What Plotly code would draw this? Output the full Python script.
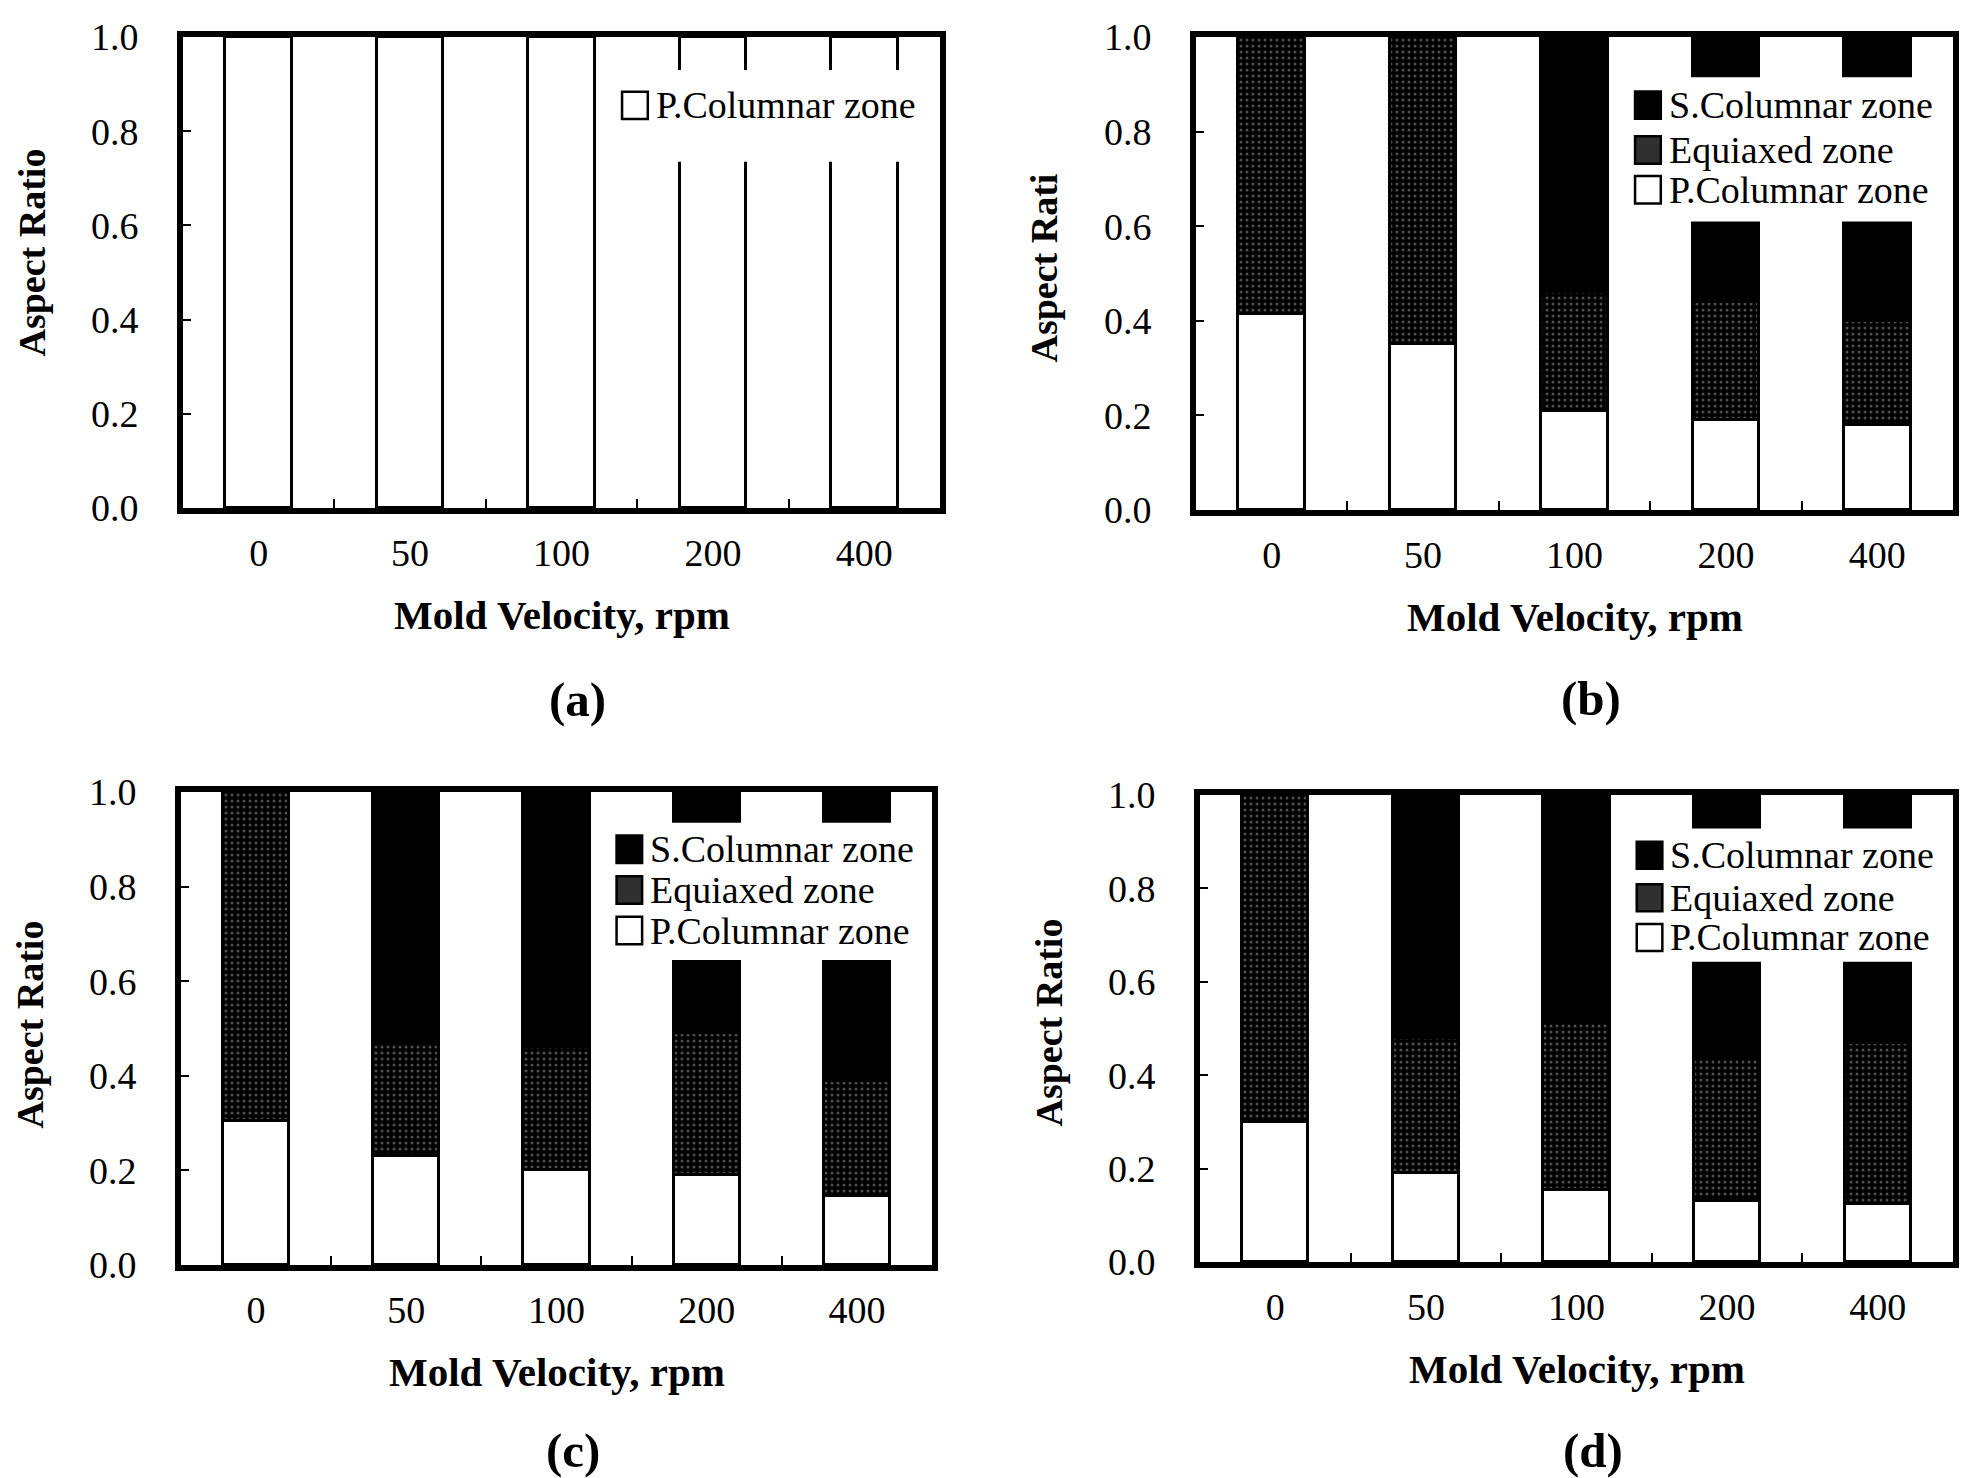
import plotly.graph_objects as go

# ---------------- data ----------------
categories = ["0", "50", "100", "200", "400"]

# panel (a): only primary columnar zone
a_pcol = [1.0, 1.0, 1.0, 1.0, 1.0]

# panel (b)
b_pcol = [0.415, 0.35, 0.21, 0.19, 0.18]
b_equi = [0.585, 0.65, 0.25, 0.25, 0.22]
b_scol = [0.0, 0.0, 0.54, 0.56, 0.60]

# panel (c)
c_pcol = [0.305, 0.23, 0.20, 0.19, 0.145]
c_equi = [0.695, 0.24, 0.26, 0.30, 0.245]
c_scol = [0.0, 0.53, 0.54, 0.51, 0.61]

# panel (d)
d_pcol = [0.30, 0.19, 0.155, 0.13, 0.125]
d_equi = [0.70, 0.29, 0.36, 0.305, 0.345]
d_scol = [0.0, 0.52, 0.485, 0.565, 0.53]

y_title = ["Aspect Ratio", "Aspect Rati", "Aspect Ratio", "Aspect Ratio"]
x_title = "Mold Velocity, rpm"
panel_labels = ["(a)", "(b)", "(c)", "(d)"]
zone_names = ["S.Columnar zone", "Equiaxed zone", "P.Columnar zone"]

# ---------------- styling ----------------
FONT = "Liberation Serif"
W, H = 1961, 1478

# plot-area boxes in pixels (left, right, top, bottom)
boxes = [
    (183, 940, 37, 508),
    (1196, 1953, 37, 510),
    (181, 932, 792, 1265),
    (1200, 1953, 795, 1262),
]
ytitle_shift = [-20, -5, -4, -6]
label_offset = [191, 188, 185, 188]
# legend white box (y from, y to) and legend entry centres, in data units
legend_box = [(0.735, 0.93), (0.61, 0.915), (0.645, 0.935), (0.643, 0.928)]
legend_rows = [
    [0.855],
    [0.856, 0.761, 0.677],
    [0.879, 0.793, 0.707],
    [0.871, 0.780, 0.695],
]

fig = go.Figure()

white = dict(color="white", line=dict(color="black", width=3))
black = dict(color="black", line=dict(color="black", width=3))
gray = dict(color="black", line=dict(color="black", width=3),
            pattern=dict(shape=".", fgcolor="#a0a0a0", size=6, solidity=0.2))

panels = [
    [(a_pcol, white, zone_names[2])],
    [(b_pcol, white, zone_names[2]), (b_equi, gray, zone_names[1]), (b_scol, black, zone_names[0])],
    [(c_pcol, white, zone_names[2]), (c_equi, gray, zone_names[1]), (c_scol, black, zone_names[0])],
    [(d_pcol, white, zone_names[2]), (d_equi, gray, zone_names[1]), (d_scol, black, zone_names[0])],
]

shapes = []
annotations = []

for i, traces in enumerate(panels):
    sfx = "" if i == 0 else str(i + 1)
    for vals, mk, name in traces:
        fig.add_trace(go.Bar(x=categories, y=vals, name=name, marker=mk, width=0.44,
                             showlegend=False, xaxis="x" + sfx, yaxis="y" + sfx))

    l, r, t, b = boxes[i]
    xdom = [l / W, r / W]
    ydom = [1 - b / H, 1 - t / H]
    axis_common = dict(showline=True, linecolor="black", linewidth=6, mirror=True,
                       showgrid=False, zeroline=False, automargin=False,
                       tickfont=dict(family=FONT, size=38, color="black"),
                       ticks="inside", tickcolor="black", tickwidth=2)
    fig.update_layout(**{
        "xaxis" + sfx: dict(domain=xdom, anchor="y" + sfx, type="category",
                            range=[-0.5, 4.5], tickson="boundaries", ticklen=9,
                            ticklabelstandoff=6, **axis_common),
        "yaxis" + sfx: dict(domain=ydom, anchor="x" + sfx, range=[0, 1.0],
                            tickvals=[0, 0.2, 0.4, 0.6, 0.8, 1.0], tickformat=".1f",
                            ticklen=8, ticklabelstandoff=31, **axis_common),
    })

    xd = "x" + sfx + " domain"
    yd = "y" + sfx
    y0, y1 = legend_box[i]
    shapes.append(dict(type="rect", xref=xd, yref=yd, x0=0.56, x1=0.997, y0=y0, y1=y1,
                       fillcolor="white", line=dict(width=0), layer="above"))

    # legend rows
    names = [zone_names[2]] if i == 0 else zone_names
    fills = ["white"] if i == 0 else ["black", "#303030", "white"]
    for yc, nm, fc in zip(legend_rows[i], names, fills):
        hh = 0.029
        shapes.append(dict(type="rect", xref=xd, yref=yd, x0=0.58, x1=0.614,
                           y0=yc - hh, y1=yc + hh, fillcolor=fc,
                           line=dict(color="black", width=2.5), layer="above"))
        annotations.append(dict(text=nm, xref=xd, yref=yd, x=0.622, y=yc,
                                xanchor="left", yanchor="middle", showarrow=False,
                                font=dict(family=FONT, size=38, color="black")))

    # axis titles and panel label
    cx = (l + r) / 2 / W
    annotations.append(dict(text="<b>" + x_title + "</b>", xref="paper", yref="paper",
                            x=cx, y=1 - (b + 107) / H, xanchor="center", yanchor="middle",
                            showarrow=False, font=dict(family=FONT, size=41, color="black")))
    annotations.append(dict(text="<b>" + panel_labels[i] + "</b>", xref="paper", yref="paper",
                            x=cx + 16 / W, y=1 - (b + label_offset[i]) / H, xanchor="center",
                            yanchor="middle", showarrow=False,
                            font=dict(family=FONT, size=49, color="black")))
    annotations.append(dict(text="<b>" + y_title[i] + "</b>", xref="paper", yref="paper",
                            x=(l - 152) / W, y=1 - ((t + b) / 2 + ytitle_shift[i]) / H,
                            xanchor="center", yanchor="middle", textangle=-90, showarrow=False,
                            font=dict(family=FONT, size=38, color="black")))

fig.update_layout(
    width=W, height=H, margin=dict(l=0, r=0, t=0, b=0, autoexpand=False),
    paper_bgcolor="white", plot_bgcolor="white",
    barmode="stack", bargap=0,
    showlegend=False,
    shapes=shapes, annotations=annotations,
    font=dict(family=FONT, color="black"),
)

fig.write_html("out.html")
